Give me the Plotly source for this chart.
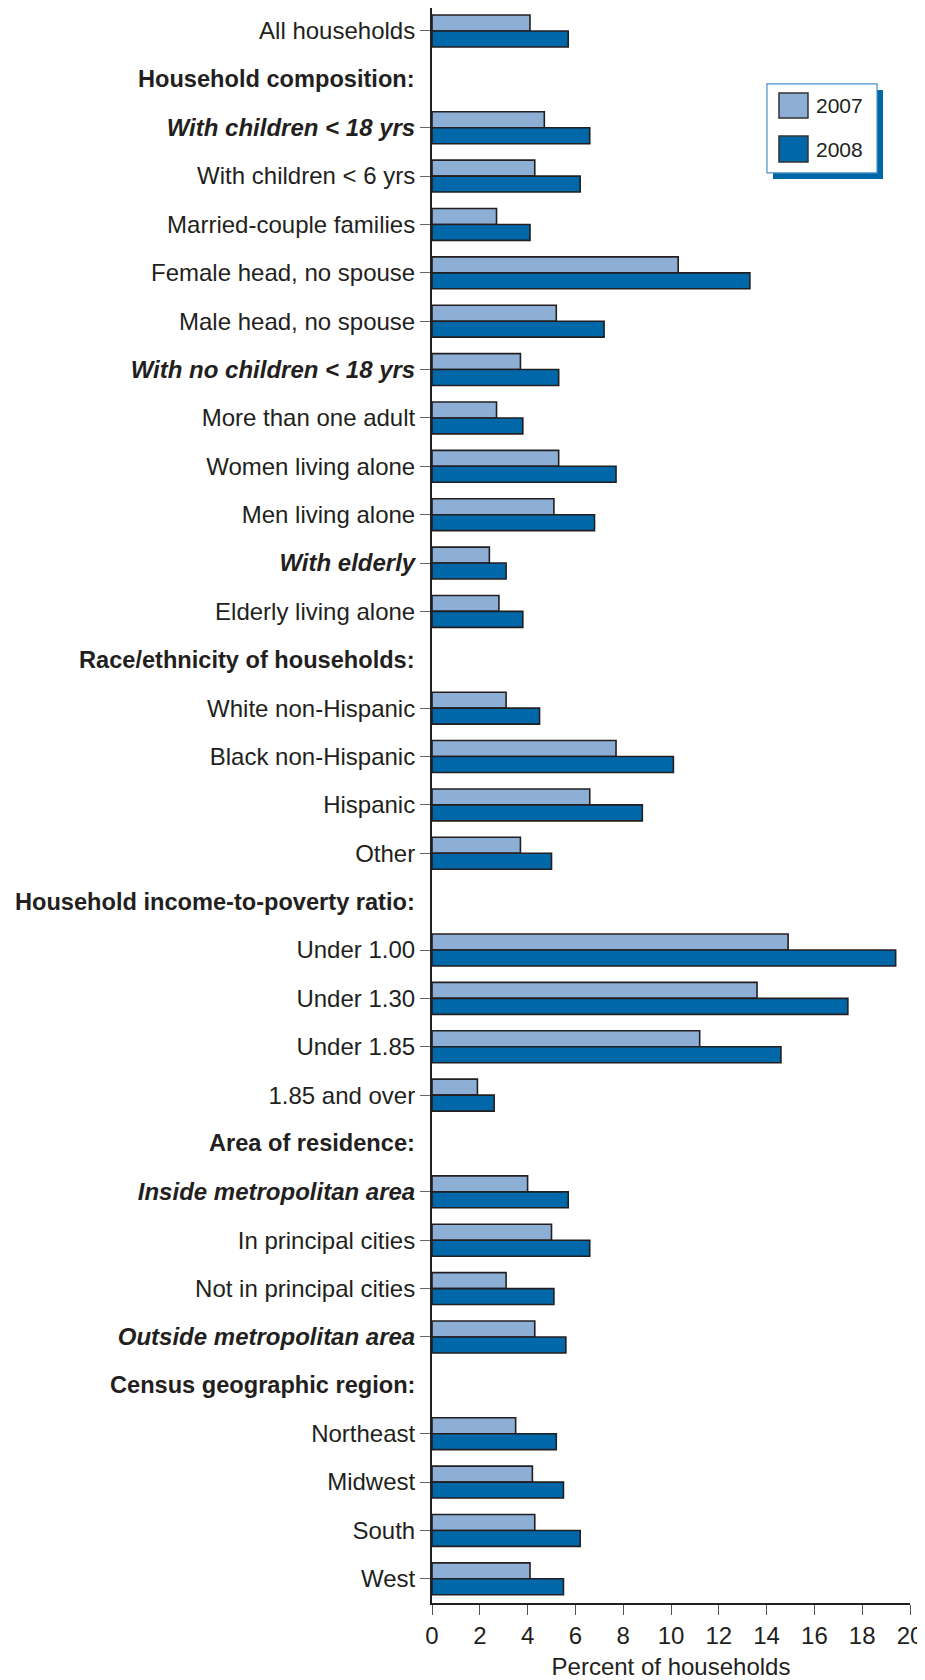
import plotly.graph_objects as go

# ---------------- data ----------------
categories = [
    "All households",
    "Household composition:",
    "With children < 18 yrs",
    "With children < 6 yrs",
    "Married-couple families",
    "Female head, no spouse",
    "Male head, no spouse",
    "With no children < 18 yrs",
    "More than one adult",
    "Women living alone",
    "Men living alone",
    "With elderly",
    "Elderly living alone",
    "Race/ethnicity of households:",
    "White non-Hispanic",
    "Black non-Hispanic",
    "Hispanic",
    "Other",
    "Household income-to-poverty ratio:",
    "Under 1.00",
    "Under 1.30",
    "Under 1.85",
    "1.85 and over",
    "Area of residence:",
    "Inside metropolitan area",
    "In principal cities",
    "Not in principal cities",
    "Outside metropolitan area",
    "Census geographic region:",
    "Northeast",
    "Midwest",
    "South",
    "West",
]

headers = [
    "Household composition:",
    "Race/ethnicity of households:",
    "Household income-to-poverty ratio:",
    "Area of residence:",
    "Census geographic region:",
]

emphasized = [
    "With children < 18 yrs",
    "With no children < 18 yrs",
    "With elderly",
    "Inside metropolitan area",
    "Outside metropolitan area",
]

values_2007 = [4.1, None, 4.7, 4.3, 2.7, 10.3, 5.2, 3.7, 2.7, 5.3, 5.1, 2.4, 2.8,
               None, 3.1, 7.7, 6.6, 3.7,
               None, 14.9, 13.6, 11.2, 1.9,
               None, 4.0, 5.0, 3.1, 4.3,
               None, 3.5, 4.2, 4.3, 4.1]
values_2008 = [5.7, None, 6.6, 6.2, 4.1, 13.3, 7.2, 5.3, 3.8, 7.7, 6.8, 3.1, 3.8,
               None, 4.5, 10.1, 8.8, 5.0,
               None, 19.4, 17.4, 14.6, 2.6,
               None, 5.7, 6.6, 5.1, 5.6,
               None, 5.2, 5.5, 6.2, 5.5]

series_names = ["2007", "2008"]
x_ticks = [0, 2, 4, 6, 8, 10, 12, 14, 16, 18, 20]
x_title = "Percent of households"

# ---------------- style ----------------
FONT = "Liberation Sans, Arial, sans-serif"
TXT = "#231f20"
C07 = "#8dafd6"
C08 = "#0067a8"
OUT = "#231f20"
FS = 24

fig = go.Figure()
for name, vals, col in [(series_names[0], values_2007, C07), (series_names[1], values_2008, C08)]:
    fig.add_trace(go.Bar(
        x=vals, y=categories, orientation="h", name=name,
        marker=dict(color=col, line=dict(color=OUT, width=1.6)),
        showlegend=False,
    ))

tickvals = [c for c in categories if c not in headers]
ticktext = [f"<b><i>{c}</i></b>" if c in emphasized else c for c in tickvals]

# the page body adds an 8px margin, so the figure is sized to fit the window
fig.update_layout(
    width=917, height=1672,
    margin=dict(l=424, r=15, t=0, b=77),
    paper_bgcolor="white", plot_bgcolor="white",
    barmode="group", bargap=0.34, bargroupgap=0,
    font=dict(family=FONT, size=FS, color=TXT),
    xaxis=dict(
        automargin=False,
        range=[0, 20], tickvals=x_ticks, ticks="outside", ticklen=10,
        tickcolor="#555", tickwidth=1.2, showgrid=False, zeroline=False,
        showline=True, linecolor=OUT, linewidth=2,
        ticklabeloverflow="allow",
        tickfont=dict(size=FS, family=FONT, color=TXT),
        title=dict(text=x_title, font=dict(size=FS, family=FONT, color=TXT), standoff=10),
    ),
    yaxis=dict(
        automargin=False,
        type="category", categoryorder="array", categoryarray=categories,
        range=[32.5, -0.475], tickvals=tickvals, ticktext=ticktext,
        ticks="outside", ticklen=10, tickcolor="#666", tickwidth=1.2,
        showgrid=False, zeroline=False, showline=True, linecolor=OUT, linewidth=2,
        tickfont=dict(size=FS, family=FONT, color=TXT),
    ),
)

for h in headers:
    fig.add_annotation(
        xref="paper", yref="y", x=0, y=h, xanchor="right", yanchor="middle",
        xshift=-15, showarrow=False, text=f"<b>{h}</b>",
        font=dict(size=23.6, family=FONT, color=TXT),
    )

# custom legend (box with offset shadow, large swatches)
fig.add_shape(type="rect", xref="paper", yref="paper", x0=0.7134, x1=0.9435, y0=0.8928, y1=0.9486,
              fillcolor=C08, line=dict(width=0), layer="above")
fig.add_shape(type="rect", xref="paper", yref="paper", x0=0.7008, x1=0.931, y0=0.8966, y1=0.9524,
              fillcolor="white", line=dict(color="#4b8fc6", width=1.2), layer="above")
legend_rows = [(series_names[0], C07, 0.9310, 0.9467), (series_names[1], C08, 0.9034, 0.9197)]
for name, col, y0, y1 in legend_rows:
    fig.add_shape(type="rect", xref="paper", yref="paper", x0=0.7259, x1=0.7866, y0=y0, y1=y1,
                  fillcolor=col, line=dict(color="#333", width=1.5), layer="above")
    fig.add_annotation(xref="paper", yref="paper", x=0.8, y=(y0 + y1) / 2, xanchor="left",
                       yanchor="middle", showarrow=False, text=name,
                       font=dict(size=21, family=FONT, color=TXT))

fig.write_html("out.html")
